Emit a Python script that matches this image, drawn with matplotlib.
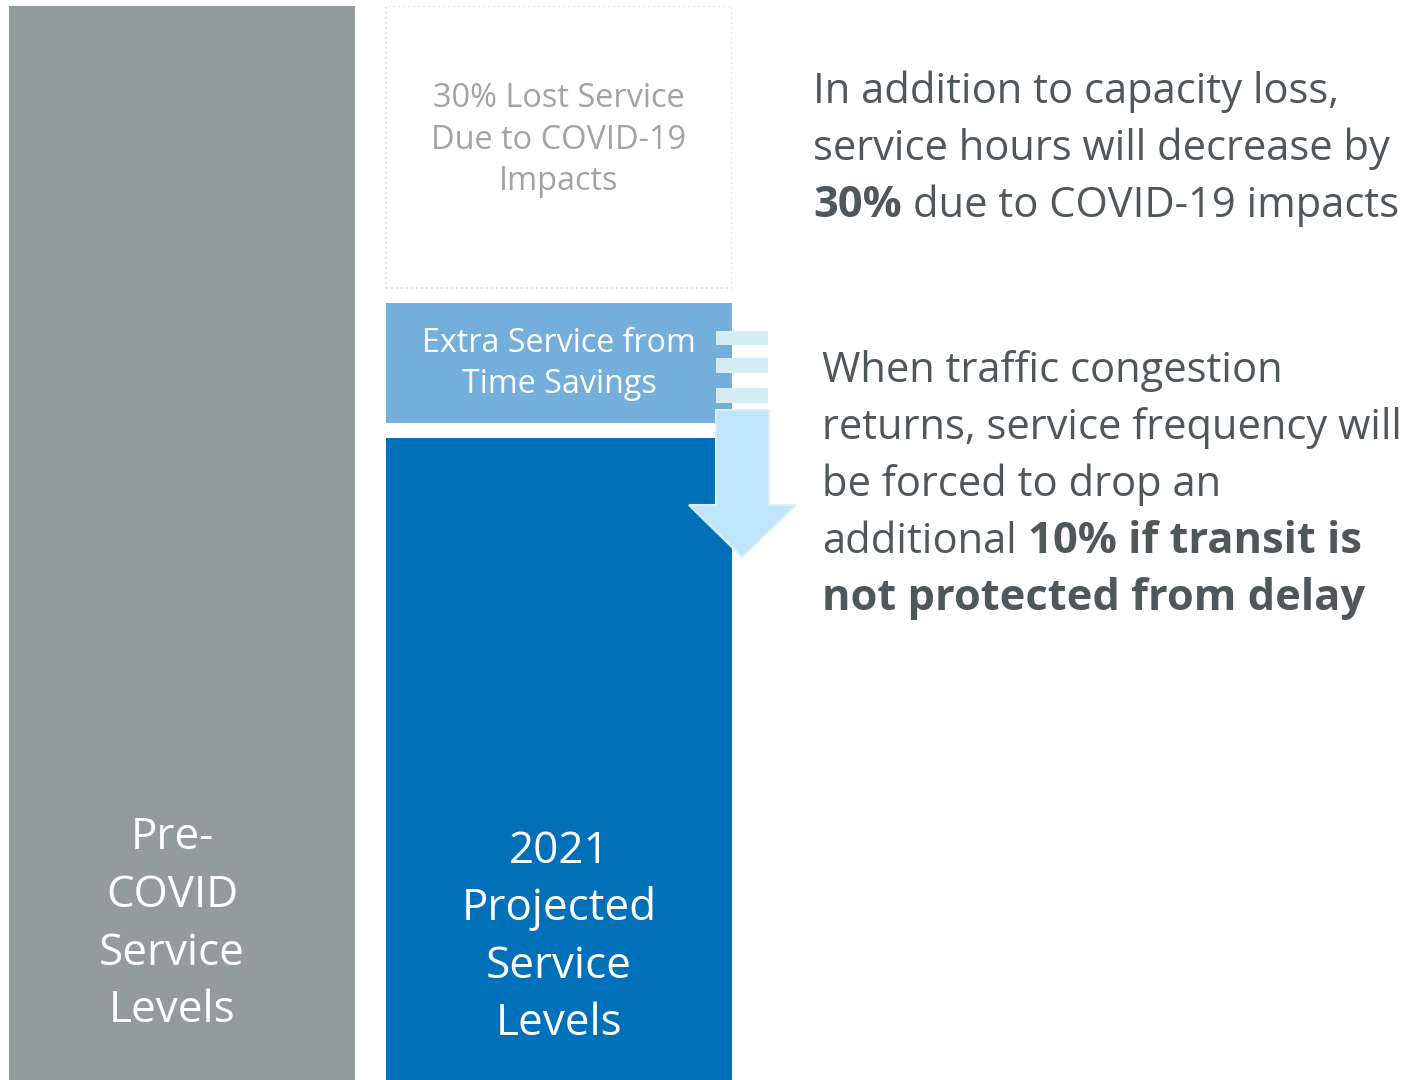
import matplotlib.pyplot as plt
from matplotlib.patches import Polygon, Rectangle

# service levels, as share of pre-covid service (%)
pre_covid = 100
stack_labels = ["2021\nProjected\nService\nLevels",
                "Extra Service from\nTime Savings",
                "30% Lost Service\nDue to COVID-19\nImpacts"]
stack_values = [60.5, 12.5, 27.0]
pre_label = "Pre-\nCOVID\nService\nLevels"

FONT = "Open Sans"
TXT = "#50575b"
GRAY = "#949b9c"
DARK_BLUE = "#0071b9"
LIGHT_BLUE = "#74afdb"
GAP = 1.4

W, H = 1418, 1080
fig = plt.figure(figsize=(W / 100, H / 100), dpi=100)

# bar axes: x 9..732 px, y 6..1080 px
ax = fig.add_axes([9 / W, 0, (732 - 9) / W, (H - 6) / H])
bar_w = 346 / 377
ax.set_xlim(-bar_w / 2, 1 + bar_w / 2)
ax.set_ylim(0, pre_covid)
ax.axis("off")

ax.bar(0, pre_covid, width=bar_w, color=GRAY, linewidth=0)

bottom = 0
fills = [DARK_BLUE, LIGHT_BLUE, "white"]
for i, (val, col) in enumerate(zip(stack_values, fills)):
    b = bottom + (GAP / 2 if i > 0 else 0)
    top = bottom + val - (GAP / 2 if i < len(stack_values) - 1 else 0)
    if col == "white":
        ax.bar(1, top - b, bottom=b, width=bar_w, color="white",
               edgecolor="#dcdcdc", linewidth=1.2, linestyle=(0, (1, 2)))
    else:
        ax.bar(1, top - b, bottom=b, width=bar_w, color=col, linewidth=0)
    bottom += val

# overlay in pixel coordinates for annotations
ov = fig.add_axes([0, 0, 1, 1])
ov.set_xlim(0, W)
ov.set_ylim(H, 0)
ov.axis("off")

# bar labels
def lines(txt, x, baselines, size, color, weight="normal"):
    for line, y in zip(txt.split("\n"), baselines):
        ov.text(x, y, line, ha="center", va="baseline", fontsize=size,
                color=color, family=FONT, fontweight=weight)

lines(pre_label, 172, [849, 907, 965, 1022], 31.7, "white")
lines(stack_labels[0], 559, [863, 920, 978, 1035], 31.7, "white")
lines(stack_labels[1], 559, [352, 393], 23.2, "white")
lines(stack_labels[2], 559, [107, 149, 190], 23.4, "#a3a3a3")

# arrow
for y0, y1 in [(331, 345), (358, 373), (388, 403)]:
    ov.add_patch(Rectangle((716, y0), 52, y1 - y0, color="#d4ecf4", lw=0))
arrow = [(716, 410), (769, 410), (769, 505), (796, 505), (742, 557),
         (689, 505), (716, 505)]
ov.add_patch(Polygon(arrow, closed=True, facecolor="#bfe5fb",
                     edgecolor="#d9f0fa", lw=1.5))

# right-hand notes
def rich_line(x, y, parts, size=30, bold_size=31.2):
    prev = None
    for txt, bold in parts:
        w = "bold" if bold else "normal"
        s = bold_size if bold else size
        if prev is None:
            prev = ov.text(x, y, txt, ha="left", va="baseline", fontsize=s,
                           color=TXT, family=FONT, fontweight=w)
        else:
            prev = ov.annotate(txt, xy=(1, 0), xycoords=prev,
                               xytext=(8, 0), textcoords="offset points",
                               ha="left", va="bottom", fontsize=s,
                               color=TXT, family=FONT, fontweight=w)

note1 = [[("In addition to capacity loss,", False)],
         [("service hours will decrease by", False)],
         [("30%", True), ("due to COVID-19 impacts", False)]]
for parts, y in zip(note1, [103, 160, 217]):
    rich_line(813, y, parts)

note2 = [[("When traffic congestion", False)],
         [("returns, service frequency will", False)],
         [("be forced to drop an", False)],
         [("additional", False), ("10% if transit is", True)],
         [("not protected from delay", True)]]
for parts, y in zip(note2, [382, 439, 496, 553, 610]):
    rich_line(822, y, parts)

fig.savefig("out.png", dpi=100)
